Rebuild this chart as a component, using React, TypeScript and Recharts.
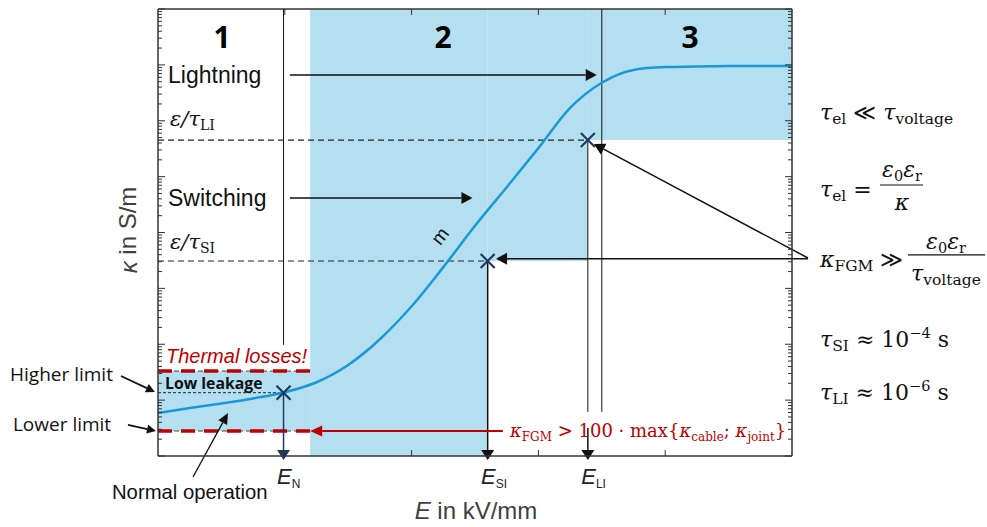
import React from "react";
import {
  ComposedChart,
  Line,
  Scatter,
  XAxis,
  YAxis,
  ReferenceArea,
  ReferenceLine,
  ReferenceDot,
} from "recharts";

// field strength E (arbitrary kV/mm units) and log10 of conductivity κ
const fieldE = [0, 0.25, 0.5, 0.75, 1, 1.25, 1.5, 1.75, 2, 2.25, 2.5, 2.75, 3, 3.25, 3.5, 3.75, 4, 4.25, 4.5, 4.75, 5];
const kappaExp = [
  -13.23, -13.14, -13.06, -12.97, -12.86, -12.68, -12.37, -11.91, -11.32, -10.62, -9.88,
  -9.19, -8.49, -7.77, -7.32, -7.09, -7.04, -7.03, -7.02, -7.02, -7.02,
];

// operating points E_N, E_SI, E_LI
const markE = [0.99, 2.6, 3.39];
const markExp = [-12.867, -10.51, -8.345];
const markNames = ["N", "SI", "LI"];

const xTicks = [1, 2, 3, 4];
const yDomainExp = [-14, -6];

// levels (log10 κ)
const thermalExp = -12.48;
const lowerExp = -13.553;
const regionSplit = [1.2, 3.5];

const K = (exp: number) => 10 ** exp;

const minorTicks: number[] = [];
for (let d = yDomainExp[0]; d < yDomainExp[1]; d++) for (let m = 1; m < 10; m++) minorTicks.push(m * 10 ** d);
minorTicks.push(K(yDomainExp[1]));

const curve = fieldE.map((e, i) => ({ e, k: K(kappaExp[i]) }));
const marks = markE.map((e, i) => ({ e, k: K(markExp[i]) }));

const SANS = "'Liberation Sans', Arial, sans-serif";
const MATH = "'DejaVu Serif', serif";
const BOLD = "'Open Sans', 'Liberation Sans', sans-serif";
const RED = "#c00000";
const FILL = "#b4dff1";
const CURVE = "#1a98d5";
const NAVY = "#1f3864";
const AXIS = "#333";

const isDecade = (v: number) => Math.abs(Math.log10(v) - Math.round(Math.log10(v))) < 1e-6;

const yTick = (dir: number) => (p: any) => {
  const len = isDecade(p.payload.value) ? 7 : 4;
  return <line x1={p.x} y1={p.y} x2={p.x + dir * len} y2={p.y} stroke={AXIS} strokeWidth={1} />;
};
const xTick = (dir: number) => (p: any) => (
  <line x1={p.x} y1={p.y} x2={p.x} y2={p.y + dir * 6} stroke={AXIS} strokeWidth={1} />
);

const arrow = (color: string, w = 1.5, head = 11, half = 6) => (p: any) => {
  const x1 = +p.x1, y1 = +p.y1, x2 = +p.x2, y2 = +p.y2;
  const a = Math.atan2(y2 - y1, x2 - x1);
  const bx = x2 - head * Math.cos(a);
  const by = y2 - head * Math.sin(a);
  const nx = -Math.sin(a) * half;
  const ny = Math.cos(a) * half;
  return (
    <g>
      <line x1={x1} y1={y1} x2={bx} y2={by} stroke={color} strokeWidth={w} />
      <polygon points={`${x2},${y2} ${bx + nx},${by + ny} ${bx - nx},${by - ny}`} fill={color} />
    </g>
  );
};

const seg = (key: string, a: [number, number], b: [number, number], props: any) => (
  <ReferenceLine
    key={key}
    segment={[{ x: a[0], y: K(a[1]) }, { x: b[0], y: K(b[1]) }]}
    ifOverflow="visible"
    {...props}
  />
);

const note = (key: string, e: number, exp: number, draw: (x: number, y: number) => React.ReactElement) => (
  <ReferenceDot key={key} x={e} y={K(exp)} r={0} ifOverflow="visible" shape={(p: any) => draw(p.cx, p.cy)} />
);

const Cross = ({ cx, cy }: any) => (
  <g stroke={NAVY} strokeWidth={2.2}>
    <line x1={cx - 7} y1={cy - 7} x2={cx + 7} y2={cy + 7} />
    <line x1={cx - 7} y1={cy + 7} x2={cx + 7} y2={cy - 7} />
  </g>
);

const sub = (t: string, size: number, dy: number) => [
  <tspan key="s" fontSize={size} fontStyle="normal" dy={dy}>{t}</tspan>,
];

export default function App() {
  const blackLine = { stroke: "#111", strokeWidth: 1 };
  const dashed = { stroke: "#222", strokeWidth: 1.2, strokeDasharray: "6 4" };
  const redDash = { stroke: RED, strokeWidth: 3.5, strokeDasharray: "14 9" };
  const greyDash = { stroke: "#444", strokeWidth: 1, strokeDasharray: "5 3" };
  const bottomTip = -14.07;
  const axisLine = { stroke: AXIS, strokeWidth: 1.5 };

  return (
    <div style={{ position: "absolute", left: 0, top: 0, width: 987, height: 527, background: "#fff" }}>
      <ComposedChart width={987} height={527} data={curve} margin={{ top: 8, right: 194, bottom: 70, left: 157 }}>
        <XAxis dataKey="e" type="number" domain={[0, 5]} ticks={xTicks} height={1} tickSize={0} tickMargin={0}
          interval={0} axisLine={axisLine} tick={xTick(-1)} />
        <XAxis xAxisId="top" orientation="top" dataKey="e" type="number" domain={[0, 5]} ticks={xTicks} height={1}
          tickSize={0} tickMargin={0} interval={0} axisLine={axisLine} tick={xTick(1)} />
        <YAxis type="number" scale="log" domain={[K(yDomainExp[0]), K(yDomainExp[1])]} allowDataOverflow ticks={minorTicks}
          width={1} tickSize={0} tickMargin={0} interval={0} axisLine={axisLine} tick={yTick(1)} />
        <YAxis yAxisId="right" orientation="right" type="number" scale="log" domain={[K(yDomainExp[0]), K(yDomainExp[1])]}
          allowDataOverflow ticks={minorTicks} width={1} tickSize={0} tickMargin={0} interval={0}
          axisLine={axisLine} tick={yTick(-1)} />

        {/* shaded regions */}
        <ReferenceArea x1={regionSplit[0]} x2={markE[1]} y1={K(yDomainExp[0])} y2={K(yDomainExp[1])} fill={FILL} fillOpacity={1} stroke="none" ifOverflow="visible" />
        <ReferenceArea x1={markE[1]} x2={markE[2]} y1={K(markExp[1])} y2={K(yDomainExp[1])} fill={FILL} fillOpacity={1} stroke="none" ifOverflow="visible" />
        <ReferenceArea x1={markE[2]} x2={5} y1={K(markExp[2])} y2={K(yDomainExp[1])} fill={FILL} fillOpacity={1} stroke="none" ifOverflow="visible" />
        <ReferenceArea x1={0} x2={regionSplit[0]} y1={K(lowerExp)} y2={K(thermalExp)} fill={FILL} fillOpacity={1} stroke="none" ifOverflow="visible" />

        {/* guide lines */}
        {seg("vN", [markE[0], -6], [markE[0], -12.01], blackLine)}
        {seg("v23", [regionSplit[1], -6], [regionSplit[1], -13.21], blackLine)}
        {seg("hLI", [0, markExp[2]], [markE[2], markExp[2]], dashed)}
        {seg("hSI", [0, markExp[1]], [markE[1], markExp[1]], dashed)}
        {seg("hN", [0, markExp[0]], [markE[0], markExp[0]], { stroke: "#222", strokeWidth: 1, strokeDasharray: "3 2" })}
        {seg("thG", [0, thermalExp], [regionSplit[0], thermalExp], greyDash)}
        {seg("thR", [0, thermalExp], [regionSplit[0], thermalExp], redDash)}
        {seg("loG", [0, lowerExp], [regionSplit[0], lowerExp], greyDash)}
        {seg("loR", [0, lowerExp], [regionSplit[0], lowerExp], redDash)}

        <Line dataKey="k" type="monotone" stroke={CURVE} strokeWidth={2.5} dot={false} isAnimationActive={false} />
        <Scatter data={marks} dataKey="k" isAnimationActive={false} shape={(p: any) => <Cross cx={p.cx} cy={p.cy} />} />

        {/* arrows */}
        {seg("aN", [markE[0], markExp[0]], [markE[0], bottomTip], { shape: arrow(NAVY, 1.5, 10, 6.5) })}
        {seg("aSI", [markE[1], markExp[1]], [markE[1], bottomTip], { shape: arrow("#111", 1.5, 10, 6.5) })}
        {seg("aLI1", [markE[2], markExp[2]], [markE[2], -13.21], blackLine)}
        {seg("aLI2", [markE[2], -13.5], [markE[2], bottomTip], { shape: arrow("#111", 1.5, 10, 6.5) })}
        {seg("aLight", [1.04, -7.181], [3.46, -7.181], { shape: arrow("#111") })}
        {seg("aSwitch", [1.04, -9.383], [2.48, -9.383], { shape: arrow("#111") })}
        {seg("aFgmSI", [5.126, -10.47], [2.666, -10.47], { shape: arrow("#111") })}
        {seg("aFgmLI", [5.126, -10.456], [3.438, -8.416], { shape: arrow("#111") })}
        {seg("aRed", [2.72, lowerExp], [regionSplit[0], lowerExp], { shape: arrow(RED, 2, 12, 5.5) })}
        {seg("aHigh", [-0.292, -12.568], [-0.024, -12.855], { shape: arrow("#111", 1.8, 9, 4.5) })}
        {seg("aLow", [-0.237, -13.445], [-0.016, -13.553], { shape: arrow("#111", 1.8, 9, 4.5) })}
        {seg("aNorm", [0.276, -14.376], [0.552, -13.23], { shape: arrow("#111", 1.3, 11, 5) })}

        {/* region numbers and text */}
        {note("r1", 0.505, -6.519, (x, y) => <text x={x} y={y + 10} textAnchor="middle" fontFamily={BOLD} fontWeight={700} fontSize={30}>1</text>)}
        {note("r2", 2.248, -6.519, (x, y) => <text x={x} y={y + 10} textAnchor="middle" fontFamily={BOLD} fontWeight={700} fontSize={30}>2</text>)}
        {note("r3", 4.196, -6.519, (x, y) => <text x={x} y={y + 10} textAnchor="middle" fontFamily={BOLD} fontWeight={700} fontSize={30}>3</text>)}
        {note("tLight", 0.079, -7.181, (x, y) => <text x={x} y={y + 8} fontFamily={SANS} fontSize={23} fill="#111">Lightning</text>)}
        {note("tSwitch", 0.079, -9.383, (x, y) => <text x={x} y={y + 8} fontFamily={SANS} fontSize={23} fill="#111">Switching</text>)}
        {note("tLI", 0.095, -7.969, (x, y) => (
          <text x={x} y={y + 7} fontFamily={MATH} fontSize={21} fontStyle="italic" fill="#111">ε/τ{sub("LI", 14, 4)}</text>
        ))}
        {note("tSI", 0.095, -10.17, (x, y) => (
          <text x={x} y={y + 7} fontFamily={MATH} fontSize={21} fontStyle="italic" fill="#111">ε/τ{sub("SI", 14, 4)}</text>
        ))}
        {note("tm", 2.224, -10.063, (x, y) => (
          <text x={x} y={y} textAnchor="middle" dominantBaseline="central" fontFamily={SANS} fontSize={19}
            transform={`rotate(-52 ${x} ${y})`} fill="#111">m</text>
        ))}
        {note("tTherm", 0.063, -12.21, (x, y) => <text x={x} y={y + 7} fontFamily={SANS} fontStyle="italic" fontSize={20} fill={RED}>Thermal losses!</text>)}
        {note("tLeak", 0.055, -12.694, (x, y) => <text x={x} y={y + 6} fontFamily={BOLD} fontWeight={700} fontSize={15.8} fill="#111">Low leakage</text>)}
        {note("tHigh", -1.167, -12.55, (x, y) => <text x={x} y={y + 6} fontFamily={BOLD} fontSize={19} fill="#111">Higher limit</text>)}
        {note("tLow", -1.144, -13.445, (x, y) => <text x={x} y={y + 6} fontFamily={BOLD} fontSize={19} fill="#111">Lower limit</text>)}
        {note("tNorm", -0.363, -14.644, (x, y) => <text x={x} y={y + 7} fontFamily={SANS} fontSize={20.3} fill="#111">Normal operation</text>)}

        {markE.map((e, i) =>
          note("E" + i, e - 0.052, -14.358, (x, y) => (
            <text x={x} y={y + 8} fontFamily={SANS} fontSize={22} fill="#222">
              <tspan fontStyle="italic">E</tspan>
              <tspan fontSize={12} dy={4}>{markNames[i]}</tspan>
            </text>
          ))
        )}
        {note("xl", 2.508, -14.984, (x, y) => (
          <text x={x} y={y + 8} textAnchor="middle" fontFamily={SANS} fontSize={24} fill="#404040">
            <tspan fontStyle="italic">E</tspan> in kV/mm
          </text>
        ))}
        {note("yl", -0.237, -9.955, (x, y) => (
          <text x={x} y={y} textAnchor="middle" dominantBaseline="central" fontFamily={SANS} fontSize={24} fill="#404040"
            transform={`rotate(-90 ${x} ${y})`}>
            <tspan fontStyle="italic">κ</tspan> in S/m
          </text>
        ))}
        {note("red", 2.776, lowerExp, (x, y) => (
          <text x={x} y={y + 6} fontFamily={MATH} fontSize={18} fill={RED}>
            <tspan fontStyle="italic">κ</tspan>
            <tspan fontSize={12} dy={4}>FGM</tspan>
            <tspan dy={-4}> &gt; 100 · max{"{"}</tspan>
            <tspan fontStyle="italic">κ</tspan>
            <tspan fontSize={12} dy={4}>cable</tspan>
            <tspan dy={-4}>; </tspan>
            <tspan fontStyle="italic">κ</tspan>
            <tspan fontSize={12} dy={4}>joint</tspan>
            <tspan dy={-4}>{"}"}</tspan>
          </text>
        ))}

        {/* formulas on the right */}
        {note("f1", 5.221, -7.861, (x, y) => (
          <text x={x} y={y + 7} fontFamily={MATH} fontSize={22} fill="#111">
            <tspan fontStyle="italic">τ</tspan>
            <tspan fontSize={15.5} dy={4}>el</tspan>
            <tspan dy={-4}> ≪ </tspan>
            <tspan fontStyle="italic">τ</tspan>
            <tspan fontSize={15.5} dy={4}>voltage</tspan>
          </text>
        ))}
        {note("f2", 5.221, -9.239, (x, y) => (
          <g fontFamily={MATH} fontSize={22} fill="#111">
            <text x={x} y={y + 7}>
              <tspan fontStyle="italic">τ</tspan>
              <tspan fontSize={15.5} dy={4}>el</tspan>
              <tspan dy={-4}> =</tspan>
            </text>
            <text x={x + 82} y={y - 13} textAnchor="middle">
              <tspan fontStyle="italic">ε</tspan><tspan fontSize={14.5} dy={4}>0</tspan>
              <tspan fontStyle="italic" dy={-4}>ε</tspan><tspan fontSize={14.5} dy={4}>r</tspan>
            </text>
            <line x1={x + 60} x2={x + 103} y1={y - 5} y2={y - 5} stroke="#111" strokeWidth={1.2} />
            <text x={x + 82} y={y + 20} textAnchor="middle" fontStyle="italic">κ</text>
          </g>
        ))}
        {note("f3", 5.221, -10.49, (x, y) => (
          <g fontFamily={MATH} fontSize={22} fill="#111">
            <text x={x} y={y + 7}>
              <tspan fontStyle="italic">κ</tspan>
              <tspan fontSize={15.5} dy={4}>FGM</tspan>
              <tspan dy={-4}> ≫</tspan>
            </text>
            <text x={x + 126} y={y - 11} textAnchor="middle">
              <tspan fontStyle="italic">ε</tspan><tspan fontSize={14.5} dy={4}>0</tspan>
              <tspan fontStyle="italic" dy={-4}>ε</tspan><tspan fontSize={14.5} dy={4}>r</tspan>
            </text>
            <line x1={x + 88} x2={x + 165} y1={y - 5} y2={y - 5} stroke="#111" strokeWidth={1.2} />
            <text x={x + 126} y={y + 21} textAnchor="middle">
              <tspan fontStyle="italic">τ</tspan>
              <tspan fontSize={15.5} dy={4}>voltage</tspan>
            </text>
          </g>
        ))}
        {note("f4", 5.221, -11.924, (x, y) => (
          <text x={x} y={y + 7} fontFamily={MATH} fontSize={22} fill="#111">
            <tspan fontStyle="italic">τ</tspan>
            <tspan fontSize={15.5} dy={4}>SI</tspan>
            <tspan dy={-4}> ≈ 10</tspan>
            <tspan fontSize={14.5} dy={-9}>−4</tspan>
            <tspan dy={9}> s</tspan>
          </text>
        ))}
        {note("f5", 5.221, -12.872, (x, y) => (
          <text x={x} y={y + 7} fontFamily={MATH} fontSize={22} fill="#111">
            <tspan fontStyle="italic">τ</tspan>
            <tspan fontSize={15.5} dy={4}>LI</tspan>
            <tspan dy={-4}> ≈ 10</tspan>
            <tspan fontSize={14.5} dy={-9}>−6</tspan>
            <tspan dy={9}> s</tspan>
          </text>
        ))}
      </ComposedChart>
    </div>
  );
}
